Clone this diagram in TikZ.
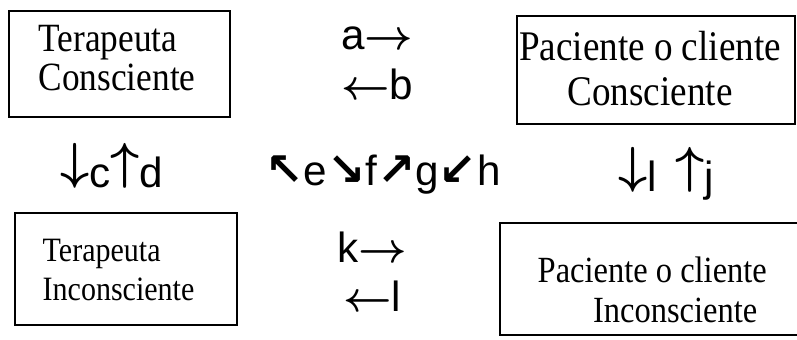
\documentclass[tikz,border=0pt]{standalone}
\usepackage{fontspec}
\setmainfont{Liberation Serif}
\newfontfamily\boxfont[FakeStretch=0.88]{Liberation Serif}
\newfontfamily\labelfont{Liberation Sans}
\newfontfamily\arrowfont{DejaVu Sans}
\newcommand{\diag}[1]{{\arrowfont\bfseries\fontsize{13}{13}\selectfont #1}}
\newcommand{\vup}{{\fontsize{13.5}{14}\selectfont\boldmath\raisebox{0.2em}{$\uparrow$}}}
\newcommand{\vdown}{{\fontsize{13.5}{14}\selectfont\boldmath\raisebox{0.2em}{$\downarrow$}}}
\newcommand{\hright}{{\boldmath$\rightarrow$}}
\newcommand{\hleft}{{\boldmath$\leftarrow$}}

\begin{document}
\begin{tikzpicture}[
    x=0.01cm,
    y=-0.01cm,
    box/.style={draw, line width=0.6pt},
    boxtext/.style={inner sep=0pt},
    flow/.style={font=\labelfont\fontsize{12}{14}\selectfont, anchor=base, inner sep=0pt}
]

% Frame
\clip (0,0) rectangle (797,340);

% Boxes
\draw[box] (9,11) rectangle (230,117);
\draw[box] (517,16) rectangle (795,124);
\draw[box] (15,213) rectangle (237,325);
\draw[box] (500,223) rectangle (820,335);

% Box texts
\node[boxtext, anchor=north west, align=left, font=\boxfont\fontsize{11.4}{9.8}\selectfont] (tercons) at (38,25) {Terapeuta\\Consciente};
\node[boxtext, anchor=north, align=center, font=\boxfont\fontsize{12}{12.8}\selectfont] (paccons) at (650,31) {Paciente o cliente\\Consciente};
\node[boxtext, anchor=north west, align=left, font=\boxfont\fontsize{9.7}{11.1}\selectfont] (terincons) at (42,238) {Terapeuta\\Inconsciente};
\node[boxtext, anchor=north west, align=left, font=\boxfont\fontsize{10.5}{11.4}\selectfont] (pacincons) at (537,256) {Paciente o cliente\\\hspace*{1.5em}Inconsciente};

% Flows
\node[flow] (ab) at (377,50) {a\hright};
\node[flow] (ba) at (377,100) {\hleft b};
\node[flow] (cd) at (112,188) {\vdown c\vup d};
\node[flow] (efgh) at (383,186) {\diag{↖}e\diag{↘}f\diag{↗}g\diag{↙}h};
\node[flow] (lj) at (666,192) {\vdown l \,\vup j};
\node[flow] (kl) at (372,263) {k\hright};
\node[flow] (lk) at (372,312) {\hleft l};

\end{tikzpicture}
\end{document}
